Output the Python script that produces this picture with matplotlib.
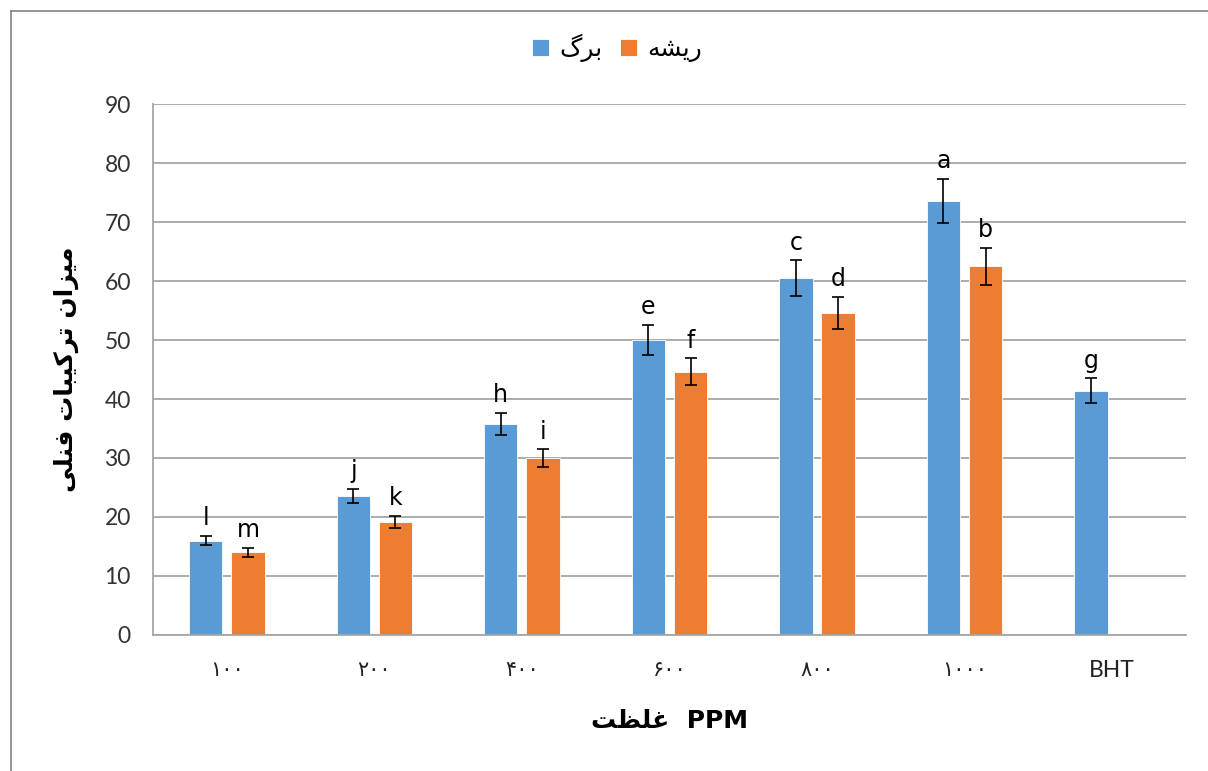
import matplotlib.pyplot as plt
from matplotlib.lines import Line2D
import numpy as np

plt.rcParams['font.family'] = ['Lato', 'DejaVu Sans']

# Persian text written in visual order with Arabic presentation forms
# (matplotlib does no Arabic shaping / bidi itself)
leaf_label = "\uFB92\uFEAE\uFE91"            # برگ
root_label = "\uFEEA\uFEB8\uFBFE\uFEAD"       # ریشه
ylabel_txt = ("\uFBFD\uFEE0\uFEE8\uFED3 "
              "\uFE95\uFE8E\uFE92\uFBFF\uFB90\uFEAE\uFE97 "
              "\uFEE5\uFE8D\uFEB0\uFBFF\uFEE3")   # میزان ترکیبات فنلی
xlabel_txt = "\uFE96\uFEC8\uFEE0\uFECF  PPM"   # غلظت PPM

categories = ["\u06F1\u06F0\u06F0", "\u06F2\u06F0\u06F0", "\u06F4\u06F0\u06F0",
              "\u06F6\u06F0\u06F0", "\u06F8\u06F0\u06F0", "\u06F1\u06F0\u06F0\u06F0", "BHT"]

leaf = [16.0, 23.6, 35.8, 50.0, 60.5, 73.6, 41.4]
leaf_err = [0.8, 1.2, 1.9, 2.6, 3.0, 3.7, 2.1]
leaf_letters = ["l", "j", "h", "e", "c", "a", "g"]

root = [14.0, 19.2, 30.0, 44.6, 54.6, 62.5]
root_err = [0.8, 1.0, 1.5, 2.3, 2.7, 3.1]
root_letters = ["m", "k", "i", "f", "d", "b"]

blue = "#5B9BD5"
orange = "#ED7D31"
grid_c = "#A6A6A6"

fig = plt.figure(figsize=(12.08, 7.71), dpi=100)
ax = fig.add_axes([0.1267, 0.1764, 0.855, 0.6887])

x = np.arange(len(categories))
w = 0.226
off = 0.143

ax.bar(x - off, leaf, w, color=blue, edgecolor="white", linewidth=0.6, label=leaf_label, zorder=2)
ax.bar(x[:len(root)] + off, root, w, color=orange, edgecolor="white", linewidth=0.6, label=root_label, zorder=2)
ax.errorbar(x - off, leaf, yerr=leaf_err, fmt="none", ecolor="black", elinewidth=1.2,
            capsize=4.5, capthick=1.2, zorder=3)
ax.errorbar(x[:len(root)] + off, root, yerr=root_err, fmt="none", ecolor="black", elinewidth=1.2,
            capsize=4.5, capthick=1.2, zorder=3)

for xi, v, e, t in zip(x - off, leaf, leaf_err, leaf_letters):
    ax.annotate(t, (xi, v + e), xytext=(0, 4), textcoords="offset points",
                ha="center", va="bottom", fontsize=17, family="DejaVu Sans")
for xi, v, e, t in zip(x[:len(root)] + off, root, root_err, root_letters):
    ax.annotate(t, (xi, v + e), xytext=(0, 4), textcoords="offset points",
                ha="center", va="bottom", fontsize=17, family="DejaVu Sans")

ax.set_xlim(-0.5, len(categories) - 0.5)
ax.set_ylim(0, 90)
ax.set_yticks(np.arange(0, 91, 10))
ax.set_xticks(x)
ax.set_xticklabels(categories, fontsize=15, family=["DejaVu Sans"])
ax.tick_params(axis="y", labelsize=16.5, length=0, pad=16, colors="#333333")
ax.tick_params(axis="x", length=0, pad=18, colors="#222222")
ax.get_xticklabels()[-1].set_family(["Lato"])
ax.get_xticklabels()[-1].set_fontsize(16.5)

ax.grid(axis="y", color=grid_c, linewidth=1.3, zorder=0)
ax.set_axisbelow(True)
for s in ["top", "right"]:
    ax.spines[s].set_visible(False)
for s in ["left", "bottom"]:
    ax.spines[s].set_color(grid_c)
    ax.spines[s].set_linewidth(1.3)

ax.set_ylabel(ylabel_txt, fontsize=18, fontweight="bold", family=["DejaVu Sans"], labelpad=18)
ax.set_xlabel(xlabel_txt, fontsize=18, fontweight="bold", family=["DejaVu Sans"], labelpad=20)

ax.legend(loc="lower center", bbox_to_anchor=(0.449, 1.036), ncol=2, frameon=False,
          handlelength=0.7, handleheight=0.7, handletextpad=0.4,
          columnspacing=0.7, prop={"family": "DejaVu Sans", "size": 18})

# outer chart frame
fig.add_artist(Line2D([11 / 1208, 11 / 1208], [0, 1 - 10.5 / 771], color="#8C8C8C", lw=1.3,
                      transform=fig.transFigure))
fig.add_artist(Line2D([11 / 1208, 1], [1 - 10.5 / 771, 1 - 10.5 / 771], color="#8C8C8C", lw=1.3,
                      transform=fig.transFigure))

fig.savefig("out.png", dpi=100)
